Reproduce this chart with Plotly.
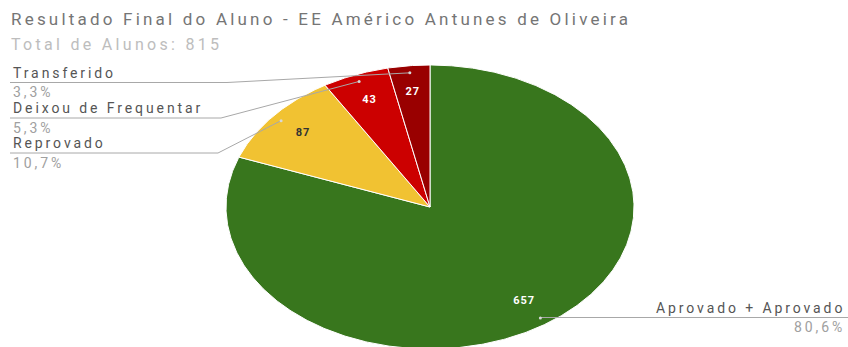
import numpy as np
import plotly.graph_objects as go

# ---- data ----
categories = ["Aprovado + Aprovado", "Reprovado", "Deixou de Frequentar", "Transferido"]
values = [657, 87, 43, 27]
percent_labels = ["80,6%", "10,7%", "5,3%", "3,3%"]
colors = ["#38761d", "#f1c232", "#cc0000", "#990000"]
value_text_colors = ["#ffffff", "#333333", "#ffffff", "#ffffff"]
title_text = "Resultado Final do Aluno - EE Américo Antunes de Oliveira"
subtitle_text = "Total de Alunos: 815"

# ---- layout geometry (pixel space) ----
W, H = 848, 347
CX, CY, RX, RY = 430, 207, 204, 142


def pt(angle_deg, r):
    a = np.radians(angle_deg)
    return CX + RX * r * np.sin(a), CY - RY * r * np.cos(a)


def spaced(s, ls):
    return f'<span style="letter-spacing:{ls}px">{s}</span>'


total = sum(values)
fig = go.Figure()
start = 0.0
mids = []
for cat, v, col in zip(categories, values, colors):
    span = 360.0 * v / total
    angs = np.linspace(start, start + span, max(int(span * 2), 4))
    xs = [CX] + [pt(a, 1)[0] for a in angs] + [CX]
    ys = [CY] + [pt(a, 1)[1] for a in angs] + [CY]
    fig.add_trace(go.Scatter(x=xs, y=ys, fill="toself", fillcolor=col, mode="lines",
                             line=dict(color="white", width=1), hoverinfo="skip",
                             showlegend=False))
    mids.append(start + span / 2)
    start += span

# value labels inside slices
vx = [pt(m, 0.81)[0] for m in mids]
vy = [pt(m, 0.81)[1] for m in mids]
fig.add_trace(go.Scatter(x=vx, y=vy, mode="text", text=[spaced(f"<b>{v}</b>", 1) for v in values],
                         textfont=dict(family="Roboto", size=11, color=value_text_colors),
                         hoverinfo="skip", showlegend=False))

# leader lines
label_side = ["right", "left", "left", "left"]
line_y = [317.5, 153, 118, 82.5]
elbow_x = [None, 218, 221, 227]
line_col = "#a8a8a8"
LS = 2.9
for i, m in enumerate(mids):
    dx, dy = pt(m, 0.95)
    if label_side[i] == "right":
        xs, ys = [dx, W], [line_y[i], line_y[i]]
    else:
        xs, ys = [dx, elbow_x[i], 10], [dy, line_y[i], line_y[i]]
    fig.add_trace(go.Scatter(x=xs, y=ys, mode="lines", line=dict(color=line_col, width=1),
                             hoverinfo="skip", showlegend=False))
    fig.add_trace(go.Scatter(x=[dx], y=[dy], mode="markers",
                             marker=dict(size=3, color="#d8d8d8"),
                             hoverinfo="skip", showlegend=False))
    if label_side[i] == "right":
        ax, anchor = W - 1, "right"
    else:
        ax, anchor = 11, "left"
    fig.add_annotation(x=ax, y=line_y[i] - 10, text=spaced(categories[i], LS), showarrow=False,
                       xanchor=anchor, yanchor="middle",
                       font=dict(family="Roboto", size=14, color="#555555"))
    fig.add_annotation(x=ax, y=line_y[i] + 9.5, text=spaced(percent_labels[i], LS), showarrow=False,
                       xanchor=anchor, yanchor="middle",
                       font=dict(family="Roboto", size=14, color="#a0a0a0"))

fig.add_annotation(x=9, y=19, text=spaced(title_text, 3.2), showarrow=False, xanchor="left",
                   yanchor="middle", font=dict(family="Roboto", size=17, color="#757575"))
fig.add_annotation(x=9, y=44, text=spaced(subtitle_text, 3.3), showarrow=False, xanchor="left",
                   yanchor="middle", font=dict(family="Roboto", size=16, color="#bdbdbd"))

fig.update_layout(
    width=W, height=H, margin=dict(l=0, r=0, t=0, b=0),
    paper_bgcolor="white", plot_bgcolor="white",
    xaxis=dict(range=[0, W], visible=False, fixedrange=True),
    yaxis=dict(range=[H, 0], visible=False, fixedrange=True),
    showlegend=False,
)
fig.write_html("out.html")
